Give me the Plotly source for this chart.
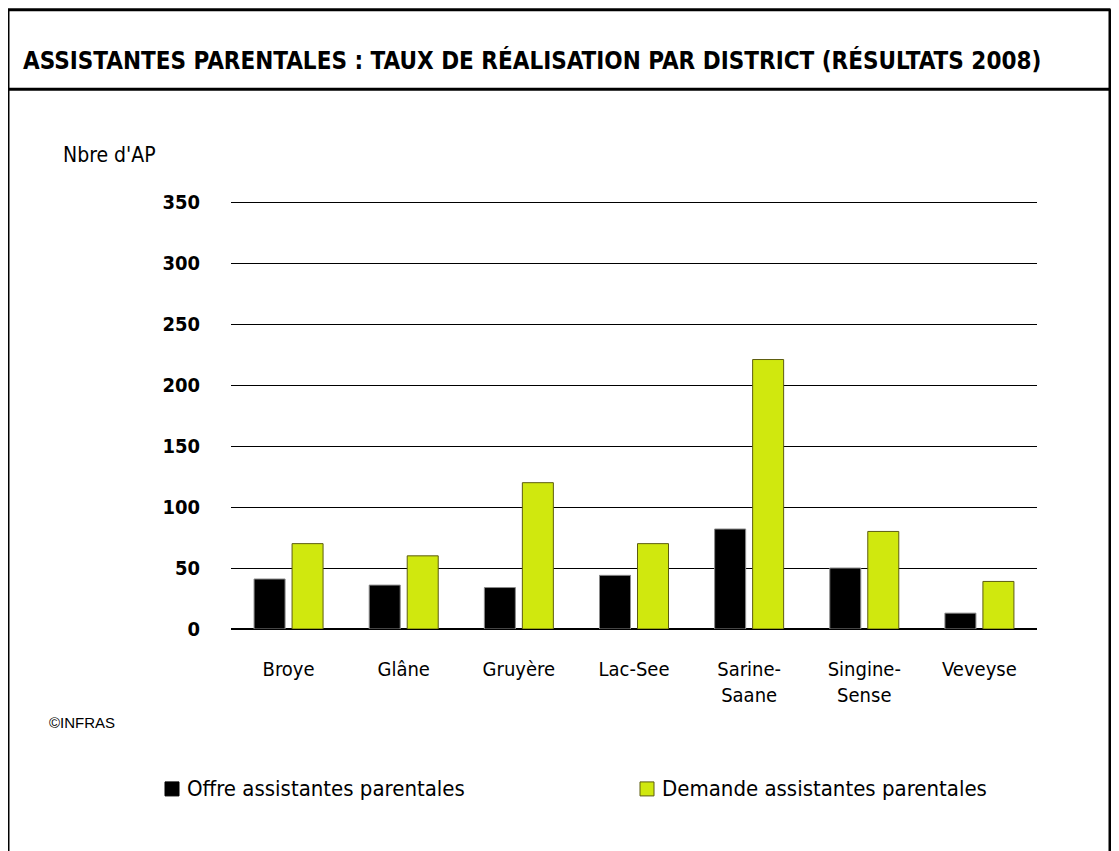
import plotly.graph_objects as go

districts = ["Broye", "Glâne", "Gruyère", "Lac-See", "Sarine-<br>Saane", "Singine-<br>Sense", "Veveyse"]
offre = [41, 36, 34, 44, 82, 50, 13]
demande = [70, 60, 120, 70, 221, 80, 39]
y_ticks = [0, 50, 100, 150, 200, 250, 300, 350]
legend_names = ["Offre assistantes parentales", "Demande assistantes parentales"]
colors = ["#000000", "#D0E80E"]
edge_colors = ["#8a8a8a", "#5c5c10"]

# the page body adds an 8px offset; work in screen coordinates and shift
O = 8
W, H = 1119 - 2 * O, 851 - O
YMAX = 351.0
L, R, B = 231 - O, 1037 - O, 629 - O
T = B - 427 * YMAX / 350

def px(x):
    return (x - O - L) / (R - L)

def py(y):
    return (B - (y - O)) / (B - T)

cond = "DejaVu Sans Condensed, Liberation Sans Narrow, DejaVu Sans, sans-serif"

fig = go.Figure()
for name, vals, c, ec in zip(legend_names, [offre, demande], colors, edge_colors):
    fig.add_trace(go.Bar(name=name, x=districts, y=vals, showlegend=False,
                         marker=dict(color=c, line=dict(color=ec, width=1))))

fig.update_layout(
    width=W, height=H,
    margin=dict(l=L, r=W - R, t=T, b=H - B, pad=0),
    paper_bgcolor="white", plot_bgcolor="white",
    barmode="group", bargap=0.34, bargroupgap=0.184,
    font=dict(family=cond, color="#000"),
)
fig.update_xaxes(showgrid=False, showline=False, ticks="", ticklabelstandoff=26,
                 tickfont=dict(family=cond, size=20, color="#000"))
fig.update_yaxes(range=[0, YMAX], tickvals=y_ticks, showgrid=True, gridcolor="#000", gridwidth=1,
                 zeroline=True, zerolinecolor="#000", zerolinewidth=1.5, showline=False, ticks="",
                 ticklabelstandoff=30,
                 tickfont=dict(family=cond, size=20, color="#000", weight="bold"))

# frame
lw = 3
frame = [
    (7, 9.5, 1110.5, 9.5), (8, 9, 8, 860), (1110, 9, 1110, 860), (7, 89, 1110.5, 89)
]
for x0, y0, x1, y1 in frame:
    fig.add_shape(type="line", xref="paper", yref="paper", x0=px(x0), y0=py(y0), x1=px(x1), y1=py(y1),
                  line=dict(color="#000", width=lw))

fig.add_annotation(text="ASSISTANTES PARENTALES : TAUX DE RÉALISATION PAR DISTRICT (RÉSULTATS 2008)",
                   xref="paper", yref="paper", x=px(21), y=py(60), xanchor="left", yanchor="middle",
                   showarrow=False, font=dict(family=cond, size=24, color="#000", weight="bold"))
fig.add_annotation(text="Nbre d'AP", xref="paper", yref="paper", x=px(61), y=py(155),
                   xanchor="left", yanchor="middle", showarrow=False,
                   font=dict(family=cond, size=21, color="#000"))
fig.add_annotation(text="©INFRAS", xref="paper", yref="paper", x=px(47), y=py(723),
                   xanchor="left", yanchor="middle", showarrow=False,
                   font=dict(family="Liberation Sans Narrow, Liberation Sans, Arial, sans-serif", size=15, color="#000"))

# manual legend
leg_x = [165, 640]
for lx, name, c, ec in zip(leg_x, legend_names, colors, edge_colors):
    fig.add_shape(type="rect", xref="paper", yref="paper", x0=px(lx), x1=px(lx + 14),
                  y0=py(796), y1=py(782), fillcolor=c, line=dict(color=ec if c != "#000000" else "#000", width=1))
    fig.add_annotation(text=name, xref="paper", yref="paper", x=px(lx + 20), y=py(789),
                       xanchor="left", yanchor="middle", showarrow=False,
                       font=dict(family=cond, size=22, color="#000"))

fig.write_html("out.html")
